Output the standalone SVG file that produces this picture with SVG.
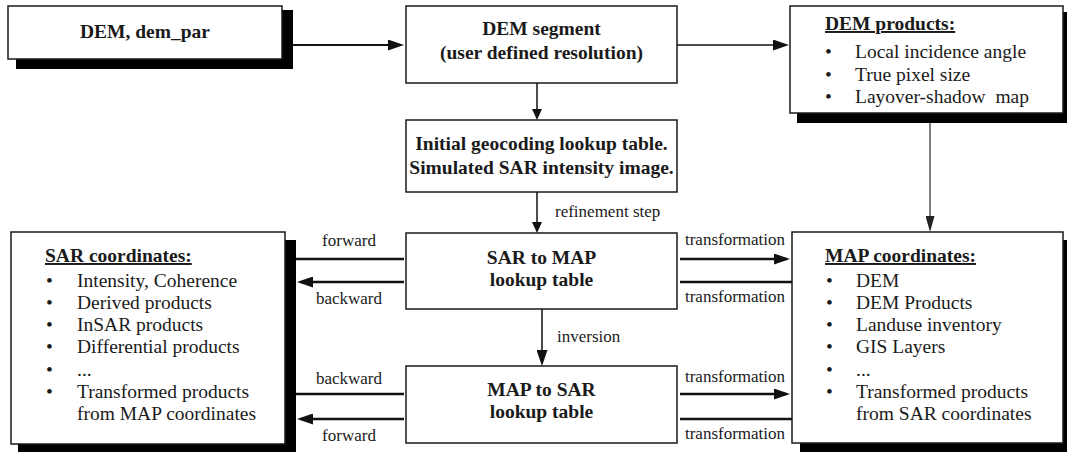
<svg xmlns="http://www.w3.org/2000/svg" width="1067" height="452" viewBox="0 0 1067 452">
<defs>
<style>
.box{fill:#fff;stroke:#1a1a1a;stroke-width:1.5}
.sh{fill:#000}
.b{font-family:"Liberation Serif","Times New Roman",serif;font-weight:bold;font-size:19.5px;fill:#1a1a1a}
.t{font-family:"Liberation Serif","Times New Roman",serif;font-size:19.5px;fill:#1a1a1a;white-space:pre}
.l{font-family:"Liberation Serif","Times New Roman",serif;font-size:17px;fill:#1a1a1a}
.c{text-anchor:middle}
.u{text-decoration:underline}
.ln{fill:none;stroke:#111}
</style>
<marker id="ah" markerUnits="userSpaceOnUse" markerWidth="16" markerHeight="11" refX="12" refY="5.5" orient="auto"><path d="M0,0 L16,5.5 L0,11 z" fill="#111"/></marker>
<marker id="ahs" markerUnits="userSpaceOnUse" markerWidth="11" markerHeight="10" refX="8" refY="5" orient="auto"><path d="M0,0 L11,5 L0,10 z" fill="#111"/></marker>
<marker id="ahg" markerUnits="userSpaceOnUse" markerWidth="16" markerHeight="9" refX="12" refY="4.5" orient="auto"><path d="M0,0 L16,4.5 L0,9 z" fill="#222"/></marker>
</defs>
<rect width="1067" height="452" fill="#fff"/>

<g id="dem-input">
<rect class="sh" x="16" y="10" width="277" height="59"/>
<rect class="box" x="8" y="6" width="274" height="53"/>
<text class="b c" x="145" y="38">DEM, dem_par</text>
</g>

<g id="dem-segment">
<rect class="box" x="406" y="6" width="271" height="77"/>
<text class="b c" x="541.5" y="35">DEM segment</text>
<text class="b c" x="541.5" y="59">(user defined resolution)</text>
</g>

<g id="dem-products">
<rect class="sh" x="797" y="12" width="280" height="111"/>
<rect class="box" x="790" y="6" width="273" height="107"/>
<text class="b u" x="825" y="30">DEM products:</text>
<text class="t" x="825" y="58">•</text><text class="t" x="855" y="58">Local incidence angle</text>
<text class="t" x="825" y="80.5">•</text><text class="t" x="855" y="80.5">True pixel size</text>
<text class="t" x="825" y="103">•</text><text class="t" x="855" y="103">Layover-shadow  map</text>
</g>

<g id="initial-lut">
<rect class="box" x="406" y="120" width="271" height="72"/>
<text class="b c" x="541.5" y="150">Initial geocoding lookup table.</text>
<text class="b c" x="541.5" y="174">Simulated SAR intensity image.</text>
</g>

<g id="sar-to-map">
<rect class="box" x="406" y="233" width="271" height="76"/>
<text class="b c" x="541.5" y="264">SAR to MAP</text>
<text class="b c" x="541.5" y="286">lookup table</text>
</g>

<g id="map-to-sar">
<rect class="box" x="406" y="366" width="271" height="77"/>
<text class="b c" x="541.5" y="396">MAP to SAR</text>
<text class="b c" x="541.5" y="418">lookup table</text>
</g>

<g id="sar-coordinates">
<rect class="sh" x="18" y="240" width="278" height="220"/>
<rect class="box" x="11" y="232" width="274" height="212"/>
<text class="b u" x="45" y="262">SAR coordinates:</text>
<text class="t" x="46" y="286.5">•</text><text class="t" x="77" y="286.5">Intensity, Coherence</text>
<text class="t" x="46" y="308.8">•</text><text class="t" x="77" y="308.8">Derived products</text>
<text class="t" x="46" y="331.1">•</text><text class="t" x="77" y="331.1">InSAR products</text>
<text class="t" x="46" y="353.4">•</text><text class="t" x="77" y="353.4">Differential products</text>
<text class="t" x="46" y="375.7">•</text><text class="t" x="77" y="375.7">...</text>
<text class="t" x="46" y="398">•</text><text class="t" x="77" y="398">Transformed products</text>
<text class="t" x="77" y="420.3">from MAP coordinates</text>
</g>

<g id="map-coordinates">
<rect class="sh" x="800" y="240" width="280" height="220"/>
<rect class="box" x="792" y="232" width="271" height="211"/>
<text class="b u" x="825" y="262">MAP coordinates:</text>
<text class="t" x="826" y="286.5">•</text><text class="t" x="856" y="286.5">DEM</text>
<text class="t" x="826" y="308.8">•</text><text class="t" x="856" y="308.8">DEM Products</text>
<text class="t" x="826" y="331.1">•</text><text class="t" x="856" y="331.1">Landuse inventory</text>
<text class="t" x="826" y="353.4">•</text><text class="t" x="856" y="353.4">GIS Layers</text>
<text class="t" x="826" y="375.7">•</text><text class="t" x="856" y="375.7">...</text>
<text class="t" x="826" y="398">•</text><text class="t" x="856" y="398">Transformed products</text>
<text class="t" x="856" y="420.3">from SAR coordinates</text>
</g>

<g id="connectors">
<path class="ln" d="M293,45 H400" stroke-width="2" marker-end="url(#ah)"/>
<path class="ln" d="M677,45 H785" stroke-width="1.5" marker-end="url(#ah)"/>
<path class="ln" d="M537,83 V117" stroke-width="1.5" marker-end="url(#ahs)"/>
<path class="ln" d="M537,192 V230" stroke-width="1.5" marker-end="url(#ahs)"/>
<path class="ln" d="M542,309 V362" stroke-width="1.5" marker-end="url(#ah)"/>
<path d="M930,123 V228" fill="none" stroke="#555" stroke-width="1.5" marker-end="url(#ahg)"/>
<path class="ln" d="M404,259 H296" stroke-width="2.5"/>
<path class="ln" d="M404,282 H301" stroke-width="2.5" marker-end="url(#ah)"/>
<path class="ln" d="M404,394 H296" stroke-width="2.5"/>
<path class="ln" d="M404,419 H301" stroke-width="2.5" marker-end="url(#ah)"/>
<path class="ln" d="M680,259 H786" stroke-width="2.5" marker-end="url(#ah)"/>
<path class="ln" d="M680,282 H792" stroke-width="2.5"/>
<path class="ln" d="M680,394 H786" stroke-width="2.5" marker-end="url(#ah)"/>
<path class="ln" d="M680,419 H792" stroke-width="2.5"/>
<text class="l" x="555" y="217">refinement step</text>
<text class="l" x="557" y="342">inversion</text>
<text class="l c" x="349" y="246">forward</text>
<text class="l c" x="349" y="304">backward</text>
<text class="l c" x="349" y="384">backward</text>
<text class="l c" x="349" y="441">forward</text>
<text class="l c" x="735" y="245">transformation</text>
<text class="l c" x="735" y="302">transformation</text>
<text class="l c" x="735" y="382">transformation</text>
<text class="l c" x="735" y="439">transformation</text>
</g>
</svg>
